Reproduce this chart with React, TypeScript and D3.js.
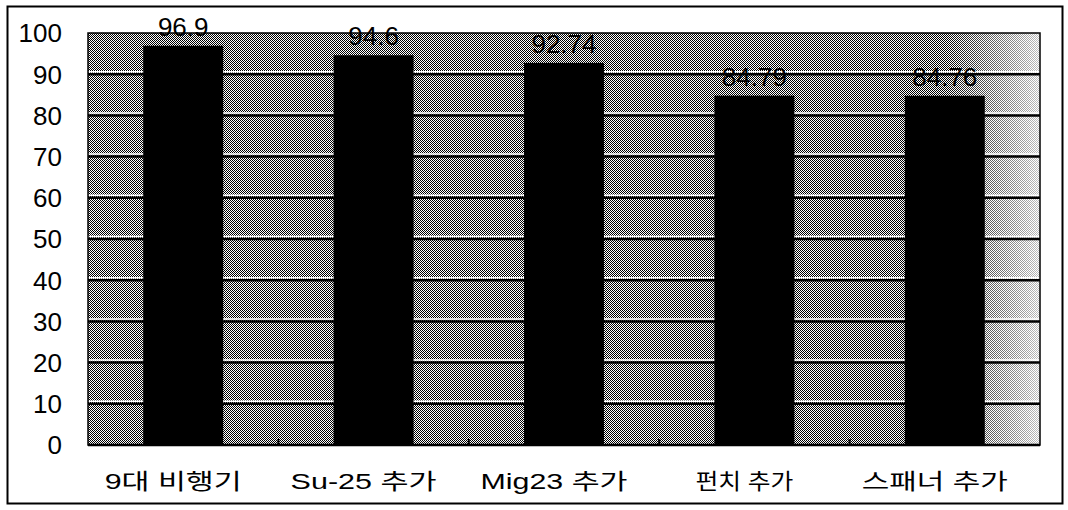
import * as d3 from 'd3';

// chart values
const categories = ['9대 비행기', 'Su-25 추가', 'Mig23 추가', '펀치 추가', '스패너 추가'];
const values = [96.9, 94.6, 92.74, 84.79, 84.76];
const valueLabels = ['96.9', '94.6', '92.74', '84.79', '84.76'];
const yTicks = [0, 10, 20, 30, 40, 50, 60, 70, 80, 90, 100];

const W = 1068;
const H = 510;
const plot = { left: 88, right: 1040, top: 33, bottom: 445 };
const FONT = '"Liberation Sans", Arial, "Noto Sans CJK KR", sans-serif';
// the scan's korean font is wide, so fit labels to its widths
const labelWidth = [137, 146, 147, 98, 146];

export default function App() {
  const x = d3.scaleBand<string>()
    .domain(categories)
    .range([plot.left, plot.right])
    .paddingInner(0.58)
    .paddingOuter(0.29);

  const y = d3.scaleLinear().domain([0, 100]).range([plot.bottom, plot.top]);

  // boundaries between categories, where the small axis ticks go
  const step = x.step();
  const bounds = categories.slice(1).map((c) => (x(c) as number) - (step * x.paddingInner()) / 2);
  const mid = (c: string) => (x(c) as number) + x.bandwidth() / 2;

  return (
    <svg width={W} height={H} style={{ position: 'absolute', left: 0, top: 0, background: '#fff' }}>
      <defs>
        {/* halftone background of the scan */}
        <pattern id="dither" width="2" height="2" patternUnits="userSpaceOnUse">
          <rect width="2" height="2" fill="#fff" />
          <rect x="0" y="0" width="1" height="1" fill="#000" />
          <rect x="1" y="1" width="1" height="1" fill="#000" />
        </pattern>
        <linearGradient id="fade" x1="0" x2="1" y1="0" y2="0">
          <stop offset="0.9" stopColor="#fff" stopOpacity="0" />
          <stop offset="1" stopColor="#fff" stopOpacity="0.75" />
        </linearGradient>
      </defs>

      {/* outer frame */}
      <rect x={7.5} y={6.5} width={1055} height={497} fill="none" stroke="#000" strokeWidth={2} />

      {/* plot background */}
      <rect x={plot.left} y={plot.top} width={plot.right - plot.left} height={plot.bottom - plot.top}
        fill="url(#dither)" shapeRendering="crispEdges" />
      <rect x={plot.left} y={plot.top} width={plot.right - plot.left} height={plot.bottom - plot.top}
        fill="url(#fade)" />

      {/* grid lines */}
      {yTicks.filter((t) => t > 0 && t < 100).map((t) => (
        <g key={t}>
          <line x1={plot.left} x2={plot.right} y1={y(t) - 2.5} y2={y(t) - 2.5} stroke="#fff" strokeWidth={1.5} />
          <line x1={plot.left} x2={plot.right} y1={y(t)} y2={y(t)} stroke="#000" strokeWidth={2.5} />
        </g>
      ))}

      {/* plot border */}
      <rect x={plot.left} y={plot.top} width={plot.right - plot.left} height={plot.bottom - plot.top}
        fill="none" stroke="#000" strokeWidth={1.5} />
      <line x1={plot.left} x2={plot.right} y1={plot.bottom} y2={plot.bottom} stroke="#000" strokeWidth={2.5} />

      {/* category ticks */}
      {bounds.map((b, i) => (
        <line key={i} x1={b} x2={b} y1={plot.bottom} y2={plot.bottom - 6} stroke="#000" strokeWidth={2} />
      ))}

      {/* bars */}
      {categories.map((c, i) => (
        <rect key={c} x={x(c)} y={y(values[i])} width={x.bandwidth()} height={y(0) - y(values[i])} fill="#000" />
      ))}

      {/* value labels */}
      {categories.map((c, i) => (
        <text key={c} x={mid(c)} y={y(values[i]) - 10}
          textAnchor="middle" fontFamily={FONT} fontSize={26} fill="#000">
          {valueLabels[i]}
        </text>
      ))}

      {/* y axis labels */}
      {yTicks.map((t) => (
        <text key={t} x={62} y={y(t)} dy="0.36em" textAnchor="end" fontFamily={FONT} fontSize={26} fill="#000">
          {t}
        </text>
      ))}

      {/* category labels */}
      {categories.map((c, i) => (
        <text key={c} x={mid(c) - 10 - labelWidth[i] / 2} y={489}
          textLength={labelWidth[i]} lengthAdjust="spacingAndGlyphs"
          fontFamily={FONT} fontSize={22} fill="#000">
          {c}
        </text>
      ))}
    </svg>
  );
}
